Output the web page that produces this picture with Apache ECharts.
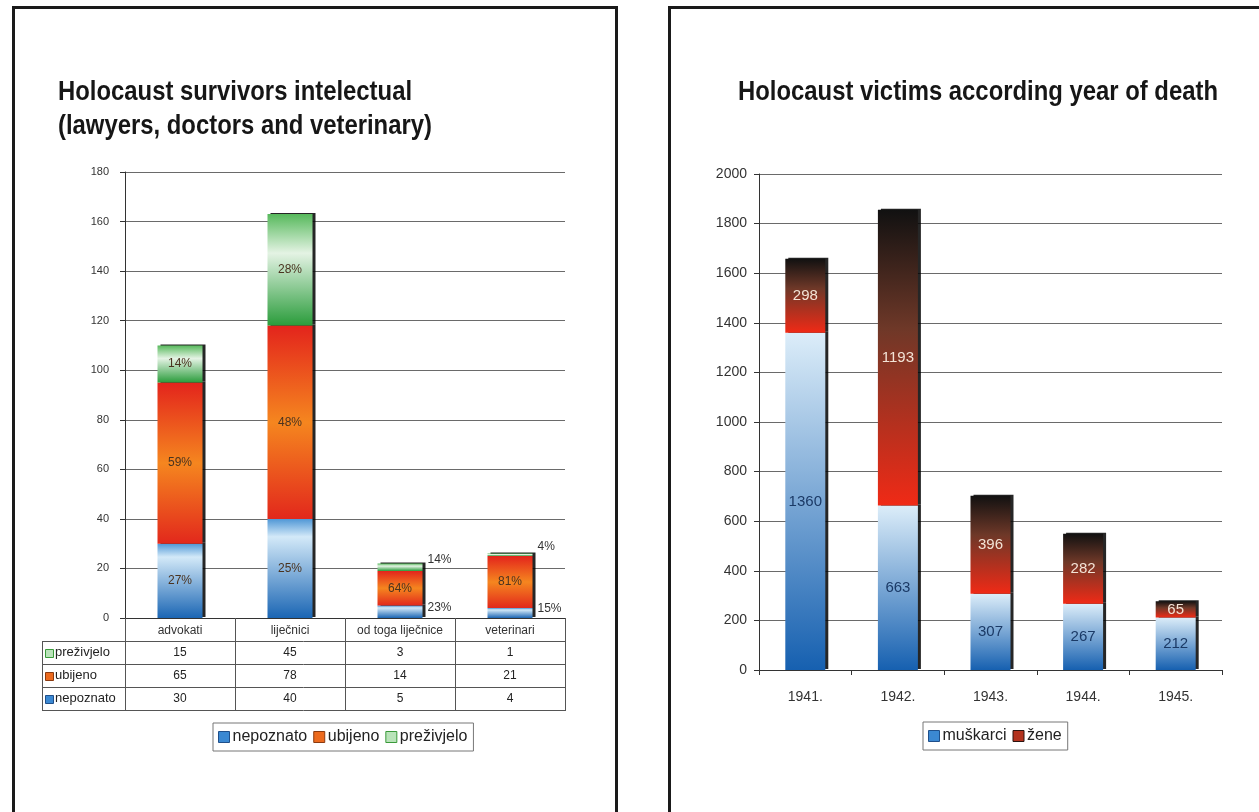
<!DOCTYPE html>
<html>
<head>
<meta charset="utf-8">
<script src="https://cdn.jsdelivr.net/npm/echarts@6/dist/echarts.min.js"></script>
<style>
html, body { margin: 0; padding: 0; background: #fff; overflow: hidden; }
#main { width: 1259px; height: 812px; }
</style>
</head>
<body>
<div id="main"></div>
<script>
// lijevi graf - intelektualci
var profCategories = ['advokati', 'liječnici', 'od toga liječnice', 'veterinari'];
var unknownCount = [30, 40, 5, 4];     // nepoznato
var killedCount = [65, 78, 14, 21];    // ubijeno
var survivedCount = [15, 45, 3, 1];    // preživjelo
var profTicks = [0, 20, 40, 60, 80, 100, 120, 140, 160, 180];

// desni graf - godina smrti
var years = ['1941.', '1942.', '1943.', '1944.', '1945.'];
var menDeaths = [1360, 663, 307, 267, 212];     // muškarci
var womenDeaths = [298, 1193, 396, 282, 65];    // žene
var yearTicks = [0, 200, 400, 600, 800, 1000, 1200, 1400, 1600, 1800, 2000];

var leftTitle = ['Holocaust survivors intelectual', '(lawyers, doctors and veterinary)'];
var rightTitle = 'Holocaust victims according year of death';

var profTotals = profCategories.map(function (c, i) {
	return unknownCount[i] + killedCount[i] + survivedCount[i];
});

var txtFont = "'Liberation Sans', Arial, sans-serif";
var titleFontSize = 27;

// naslovi su uski (condensed) - nema takvog fonta pa se tekst stisne po sirini
var measureCtx = document.createElement('canvas').getContext('2d');
measureCtx.font = 'bold ' + titleFontSize + "px 'Liberation Sans', Arial, sans-serif";
var titleScale = 480 / measureCtx.measureText(rightTitle).width;

function grad(stops) {
	return new echarts.graphic.LinearGradient(0, 0, 0, 1, stops.map(function (s) {
		return { offset: s[0], color: s[1] };
	}));
}

var blueLeft = grad([[0, '#4f97d6'], [0.18, '#d3e9f8'], [1, '#1b66b4']]);
var orangeLeft = grad([[0, '#e3241c'], [0.5, '#f5861f'], [1, '#e2281c']]);
var greenLeft = grad([[0, '#57b95c'], [0.35, '#e4f3e4'], [1, '#2a9c3b']]);
var blueRight = grad([[0, '#dcedf9'], [1, '#1660b0']]);
var womenRight = grad([[0, '#111111'], [0.4, '#6e3828'], [1, '#f02a16']]);

var barShadow = { shadowColor: 'rgba(0,0,0,0.85)', shadowOffsetX: 3, shadowOffsetY: -1, shadowBlur: 0 };

// serija lijevog grafa, postoci se racunaju iz ukupnog broja
function profSeries(name, values, color, smallOffset) {
	return {
		name: name,
		type: 'bar',
		stack: 'prof',
		xAxisIndex: 0,
		yAxisIndex: 0,
		barWidth: 45,
		itemStyle: Object.assign({ color: color }, barShadow),
		label: {
			show: true,
			position: 'inside',
			fontSize: 12,
			fontFamily: txtFont,
			color: '#4a3320',
			formatter: function (p) {
				return Math.round(p.value / profTotals[p.dataIndex] * 100) + '%';
			}
		},
		data: values.map(function (v) {
			if (v < 6) {
				return { value: v, label: { position: 'right', distance: 5, offset: [0, smallOffset], color: '#333' } };
			}
			return v;
		})
	};
}

function plainNum(v) { return String(v); }

var legendBox = {
	icon: 'rect',
	itemWidth: 11,
	itemHeight: 11,
	itemGap: 6,
	padding: [6, 6, 6, 5],
	borderColor: '#777',
	borderWidth: 1,
	selectedMode: false,
	textStyle: { fontFamily: txtFont, fontSize: 16, color: '#222', padding: [0, 0, 0, -2] }
};

var chart = echarts.init(document.getElementById('main'));

var option = {
	animation: false,
	legend: [Object.assign({
		data: [
			{ name: 'nepoznato', itemStyle: { color: '#3a88d2', borderColor: '#1f4f8a', borderWidth: 1 } },
			{ name: 'ubijeno', itemStyle: { color: '#ec6a1e', borderColor: '#8a3a10', borderWidth: 1 } },
			{ name: 'preživjelo', itemStyle: { color: '#b9e3b9', borderColor: '#3a9a3a', borderWidth: 1 } }
		],
		left: 213,
		top: 723
	}, legendBox), Object.assign({
		data: [
			{ name: 'muškarci', itemStyle: { color: '#3b88d2', borderColor: '#1f4f8a', borderWidth: 1 } },
			{ name: 'žene', itemStyle: { color: '#b2321e', borderColor: '#2a1410', borderWidth: 1 } }
		],
		left: 923,
		top: 722
	}, legendBox)],
	grid: [
		{ left: 125, top: 172, width: 440, height: 446 },
		{ left: 759, top: 174, width: 463, height: 496 }
	],
	xAxis: [{
		type: 'category',
		gridIndex: 0,
		data: profCategories,
		axisLine: { lineStyle: { color: '#333' } },
		axisTick: { show: true, interval: 0, length: 93, lineStyle: { color: '#555' } },
		axisLabel: { interval: 0, margin: 7, fontSize: 12, fontFamily: txtFont, color: '#333' }
	}, {
		type: 'category',
		gridIndex: 1,
		data: years,
		axisLine: { lineStyle: { color: '#333' } },
		axisTick: { show: true, interval: 0, length: 5, lineStyle: { color: '#333' } },
		axisLabel: { interval: 0, margin: 20, fontSize: 14, fontFamily: txtFont, color: '#333' }
	}],
	yAxis: [{
		type: 'value',
		gridIndex: 0,
		min: profTicks[0],
		max: profTicks[profTicks.length - 1],
		interval: profTicks[1] - profTicks[0],
		axisLine: { show: true, lineStyle: { color: '#333' } },
		axisTick: { show: true, length: 5, lineStyle: { color: '#333' } },
		axisLabel: { margin: 16, fontSize: 11, fontFamily: txtFont, color: '#333', formatter: plainNum },
		splitLine: { lineStyle: { color: '#6a6a6a', width: 1.2 } }
	}, {
		type: 'value',
		gridIndex: 1,
		min: yearTicks[0],
		max: yearTicks[yearTicks.length - 1],
		interval: yearTicks[1] - yearTicks[0],
		axisLine: { show: true, lineStyle: { color: '#333' } },
		axisTick: { show: true, length: 5, lineStyle: { color: '#333' } },
		axisLabel: { margin: 12, fontSize: 14, fontFamily: txtFont, color: '#333', formatter: plainNum },
		splitLine: { lineStyle: { color: '#6a6a6a', width: 1.2 } }
	}],
	series: [
		profSeries('nepoznato', unknownCount, blueLeft, -4),
		profSeries('ubijeno', killedCount, orangeLeft, 0),
		profSeries('preživjelo', survivedCount, greenLeft, -8),
		{
			name: 'muškarci',
			type: 'bar',
			stack: 'years',
			xAxisIndex: 1,
			yAxisIndex: 1,
			barWidth: 40,
			itemStyle: Object.assign({ color: blueRight }, barShadow),
			label: { show: true, position: 'inside', fontSize: 15, fontFamily: txtFont, color: '#1b3a66' },
			data: menDeaths
		},
		{
			name: 'žene',
			type: 'bar',
			stack: 'years',
			xAxisIndex: 1,
			yAxisIndex: 1,
			barWidth: 40,
			itemStyle: Object.assign({ color: womenRight }, barShadow),
			label: { show: true, position: 'inside', fontSize: 15, fontFamily: txtFont, color: '#f3e3d6' },
			data: womenDeaths
		}
	]
};
chart.setOption(option);

var els = [];

// naslovi
function titleText(text, x, y) {
	return {
		type: 'text', x: x, y: y, scaleX: titleScale,
		style: { text: text, fontSize: titleFontSize, fontWeight: 'bold', fontFamily: txtFont, fill: '#161616', align: 'left', verticalAlign: 'middle' }
	};
}
els.push(titleText(leftTitle[0], 58, 93));
els.push(titleText(leftTitle[1], 58, 127));
els.push(titleText(rightTitle, 738, 93));

// tablica podataka ispod lijevog grafa
var rowH = 23;
var axisY = chart.convertToPixel({ yAxisIndex: 0 }, 0);
var tableLeft = 42;
var tableRight = chart.convertToPixel({ xAxisIndex: 0 }, profCategories[3]) + 55;
var rows = [
	{ name: 'preživjelo', values: survivedCount, fill: '#b9e3b9', stroke: '#3a9a3a' },
	{ name: 'ubijeno', values: killedCount, fill: '#ec6a1e', stroke: '#8a3a10' },
	{ name: 'nepoznato', values: unknownCount, fill: '#3a88d2', stroke: '#1f4f8a' }
];
var lineStyle = { stroke: '#555', lineWidth: 1 };
for (var r = 0; r <= rows.length; r++) {
	var ly = Math.round(axisY + rowH * (r + 1)) + 0.5;
	els.push({ type: 'line', shape: { x1: tableLeft, y1: ly, x2: tableRight, y2: ly }, style: lineStyle });
}
els.push({ type: 'line', shape: { x1: tableLeft + 0.5, y1: axisY + rowH, x2: tableLeft + 0.5, y2: axisY + rowH * 4 }, style: lineStyle });
rows.forEach(function (row, r) {
	var cy = axisY + rowH * (r + 1) + rowH / 2;
	els.push({ type: 'rect', shape: { x: tableLeft + 3.5, y: Math.round(cy - 4) + 0.5, width: 8, height: 8 }, style: { fill: row.fill, stroke: row.stroke, lineWidth: 1 } });
	els.push({ type: 'text', x: tableLeft + 13, y: cy, style: { text: row.name, fontSize: 13, fontFamily: txtFont, fill: '#222', align: 'left', verticalAlign: 'middle' } });
	row.values.forEach(function (v, i) {
		els.push({ type: 'text', x: chart.convertToPixel({ xAxisIndex: 0 }, profCategories[i]), y: cy, style: { text: String(v), fontSize: 12, fontFamily: txtFont, fill: '#222', align: 'center', verticalAlign: 'middle' } });
	});
});
// okviri panela
els.push({ type: 'rect', shape: { x: 13.5, y: 7.5, width: 603, height: 900 }, style: { fill: null, stroke: '#1a1a1a', lineWidth: 3 } });
els.push({ type: 'rect', shape: { x: 669.5, y: 7.5, width: 700, height: 900 }, style: { fill: null, stroke: '#1a1a1a', lineWidth: 3 } });

chart.setOption({ graphic: { elements: els } });
</script>
</body>
</html>
